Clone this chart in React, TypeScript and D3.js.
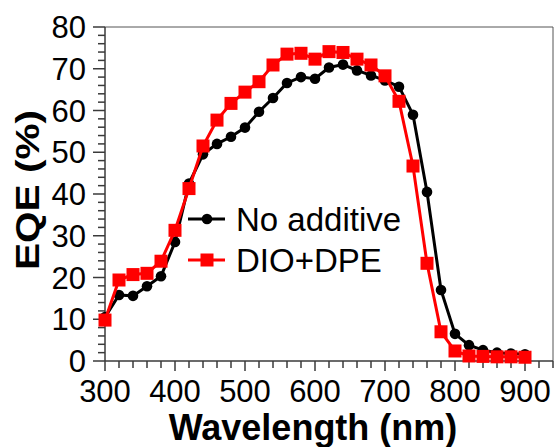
import React from "react";
import * as d3 from "d3";

const wavelengths = [300, 320, 340, 360, 380, 400, 420, 440, 460, 480, 500, 520, 540, 560, 580, 600, 620, 640, 660, 680, 700, 720, 740, 760, 780, 800, 820, 840, 860, 880, 900];
const noAdditive = [10.5, 15.8, 15.6, 17.9, 20.3, 28.5, 42.5, 49.5, 52.0, 53.7, 55.9, 59.7, 63.0, 66.6, 68.0, 67.6, 70.3, 71.0, 69.6, 68.4, 67.2, 65.7, 59.0, 40.5, 17.0, 6.5, 3.8, 2.6, 2.0, 1.8, 1.6];
const dioDpe = [9.8, 19.4, 20.7, 21.0, 23.9, 31.3, 41.3, 51.5, 57.7, 61.7, 64.4, 66.9, 70.9, 73.5, 73.7, 72.3, 74.1, 73.9, 72.3, 70.9, 68.3, 62.2, 46.7, 23.4, 7.0, 2.4, 1.2, 1.1, 1.0, 1.0, 0.9];
const xTicks = [300, 400, 500, 600, 700, 800, 900];
const yTicks = [0, 10, 20, 30, 40, 50, 60, 70, 80];
const seriesNames = ["No additive", "DIO+DPE"];

const W = 555;
const H = 447;
const FONT = "'Liberation Sans', Arial, sans-serif";

export default function App() {
  const x = d3.scaleLinear().domain([300, 940]).range([105, 553]);
  const y = d3.scaleLinear().domain([0, 80]).range([361, 27]);
  const xMinor = d3.range(300, 941, 20);
  const yMinor = d3.range(0, 81, 2);
  const axisColor = "#3a3a3a";

  const black = wavelengths.map((w, i) => [w, noAdditive[i]] as [number, number]);
  const red = wavelengths.map((w, i) => [w, dioDpe[i]] as [number, number]);
  const line = d3
    .line<[number, number]>()
    .x((d) => x(d[0]))
    .y((d) => y(d[1]));

  const sq = 13;
  const legX = 207;
  return (
    <svg
      width={W}
      height={H}
      style={{ position: "absolute", left: 0, top: 0, background: "#fff" }}
      fontFamily={FONT}
    >
      {/* frame */}
      <line x1={x(300)} x2={x(940)} y1={y(80)} y2={y(80)} stroke="#555" strokeWidth={1} />
      <line x1={x(940)} x2={x(940)} y1={y(80)} y2={y(0)} stroke="#555" strokeWidth={1} />
      {/* axes */}
      <line x1={x(300)} x2={x(300)} y1={y(80)} y2={y(0)} stroke={axisColor} strokeWidth={1.5} />
      <line x1={x(300)} x2={x(940)} y1={y(0)} y2={y(0)} stroke={axisColor} strokeWidth={1.5} />
      {yMinor.map((v) => (
        <line
          key={"ym" + v}
          x1={x(300) - (v % 10 === 0 ? 12 : 7)}
          x2={x(300)}
          y1={y(v)}
          y2={y(v)}
          stroke={axisColor}
          strokeWidth={1.5}
        />
      ))}
      {xMinor.map((v) => (
        <line
          key={"xm" + v}
          x1={x(v)}
          x2={x(v)}
          y1={y(0)}
          y2={y(0) + (v % 100 === 0 && v <= 900 ? 10 : 7)}
          stroke={axisColor}
          strokeWidth={1.5}
        />
      ))}
      {yTicks.map((v) => (
        <text
          key={"yt" + v}
          x={86}
          y={y(v) + 11}
          textAnchor="end"
          fontSize={31}
          fill="#000"
        >
          {v}
        </text>
      ))}
      {xTicks.map((v) => (
        <text key={"xt" + v} x={x(v)} y={402} textAnchor="middle" fontSize={31} fill="#000">
          {v}
        </text>
      ))}
      {/* axis titles */}
      <text x={313} y={440} textAnchor="middle" fontSize={36} fontWeight="bold" fill="#000">
        Wavelength (nm)
      </text>
      <text
        transform="translate(39,190) rotate(-90)"
        textAnchor="middle"
        fontSize={33}
        fontWeight="bold"
        fill="#000"
        textLength={160}
        lengthAdjust="spacingAndGlyphs"
      >
        EQE (%)
      </text>
      {/* series */}
      <path d={line(black) || ""} fill="none" stroke="#000" strokeWidth={3} />
      {black.map((d, i) => (
        <circle key={"b" + i} cx={x(d[0])} cy={y(d[1])} r={5.3} fill="#000" />
      ))}
      <path d={line(red) || ""} fill="none" stroke="#ff0000" strokeWidth={3} />
      {red.map((d, i) => (
        <rect key={"r" + i} x={x(d[0]) - sq / 2} y={y(d[1]) - sq / 2} width={sq} height={sq} fill="#ff0000" />
      ))}
      {/* legend */}
      <line x1={188} x2={225} y1={219} y2={219} stroke="#000" strokeWidth={3} />
      <circle cx={legX} cy={219} r={5.3} fill="#000" />
      <text x={236} y={231} fontSize={33} fill="#000">
        {seriesNames[0]}
      </text>
      <line x1={188} x2={225} y1={260} y2={260} stroke="#ff0000" strokeWidth={3} />
      <rect x={legX - sq / 2} y={260 - sq / 2} width={sq} height={sq} fill="#ff0000" />
      <text x={236} y={272} fontSize={33} fill="#000">
        {seriesNames[1]}
      </text>
    </svg>
  );
}
